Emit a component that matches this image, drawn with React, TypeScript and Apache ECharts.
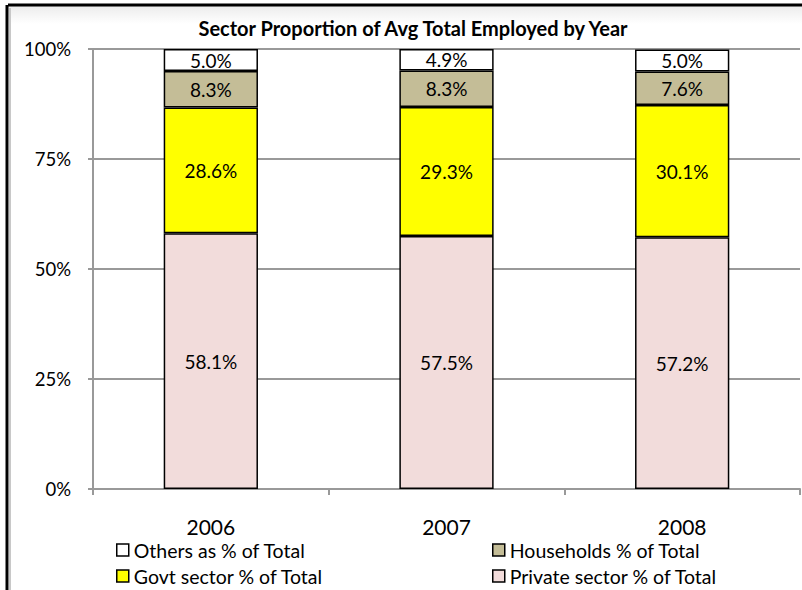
import React, { useEffect, useRef } from "react";
import * as echarts from "echarts";

const years = ["2006", "2007", "2008"];
const othersPct = [5.0, 4.9, 5.0];
const householdsPct = [8.3, 8.3, 7.6];
const govtPct = [28.6, 29.3, 30.1];
const privatePct = [58.1, 57.5, 57.2];
const yTicks = [0, 25, 50, 75, 100];

const FONT = "Lato";

export default function App() {
  const ref = useRef<HTMLDivElement>(null);
  useEffect(() => {
    const chart = echarts.init(ref.current!, null, { renderer: "svg" });
    const lbl = {
      show: true,
      position: "inside",
      color: "#000",
      fontSize: 19,
      fontFamily: FONT,
      formatter: (p: any) => Number(p.value).toFixed(1) + "%",
    };
    const mk = (name: string, data: number[], color: string) => ({
      name,
      type: "bar",
      stack: "total",
      data,
      barWidth: "40%",
      itemStyle: { color, borderColor: "#000", borderWidth: 1.5 },
      label: lbl,
    });
    const legendBase = {
      orient: "vertical",
      top: 535,
      height: 70,
      itemGap: 6,
      itemWidth: 12,
      itemHeight: 12,
      icon: "rect",
      textStyle: { fontFamily: FONT, fontSize: 19.5, color: "#000" },
      itemStyle: { borderColor: "#000", borderWidth: 1.5 },
    };
    chart.setOption({
      animation: false,
      backgroundColor: "#fff",
      title: {
        text: "Sector Proportion of Avg Total Employed by Year",
        left: 408,
        textAlign: "center",
        top: 13,
        textStyle: { fontFamily: FONT, fontWeight: "bold", fontSize: 20, color: "#000" },
      },
      legend: [
        { ...legendBase, data: ["Others as % of Total", "Govt sector % of Total"], left: 111 },
        { ...legendBase, data: ["Households % of Total", "Private sector % of Total"], left: 487 },
      ],
      grid: { left: 93, right: 2, top: 49, bottom: 101, containLabel: false },
      xAxis: {
        type: "category",
        data: years,
        axisLine: { show: true, lineStyle: { color: "#999", width: 2 } },
        axisTick: { show: true, length: 6, lineStyle: { color: "#999", width: 2 } },
        axisLabel: { fontFamily: FONT, fontSize: 21, color: "#000", margin: 27 },
      },
      yAxis: {
        type: "value",
        min: 0,
        max: 100,
        interval: 25,
        axisLine: { show: true, lineStyle: { color: "#999", width: 2 } },
        axisTick: { show: true, length: 5, lineStyle: { color: "#999", width: 2 } },
        splitLine: { show: true, lineStyle: { color: "#999", width: 2 } },
        axisLabel: {
          fontFamily: FONT,
          fontSize: 18.5,
          color: "#000",
          margin: 22,
          formatter: (v: number) => (yTicks.includes(v) ? v + "%" : ""),
        },
      },
      graphic: [
        {
          type: "rect",
          shape: { x: 8, y: 6, width: 794, height: 18 },
          style: {
            fill: new echarts.graphic.LinearGradient(0, 0, 0, 1, [
              { offset: 0, color: "#ececec" },
              { offset: 1, color: "#ffffff" },
            ]),
          },
          z: -1,
        },
        { type: "line", shape: { x1: 8, y1: 5, x2: 802, y2: 5 }, style: { stroke: "#000", lineWidth: 3 } },
        { type: "line", shape: { x1: 7, y1: 5, x2: 7, y2: 590 }, style: { stroke: "#000", lineWidth: 3 } },
        { type: "line", shape: { x1: 10, y1: 8, x2: 10, y2: 590 }, style: { stroke: "#c8c8c8", lineWidth: 2 } },
      ],
      series: [
        mk("Private sector % of Total", privatePct, "#F2DCDB"),
        mk("Govt sector % of Total", govtPct, "#FFFF00"),
        mk("Households % of Total", householdsPct, "#C4BD97"),
        mk("Others as % of Total", othersPct, "#FFFFFF"),
      ],
    });
    return () => chart.dispose();
  }, []);
  return (
    <div
      ref={ref}
      style={{ position: "absolute", left: 0, top: 0, width: 802, height: 590 }}
    />
  );
}
